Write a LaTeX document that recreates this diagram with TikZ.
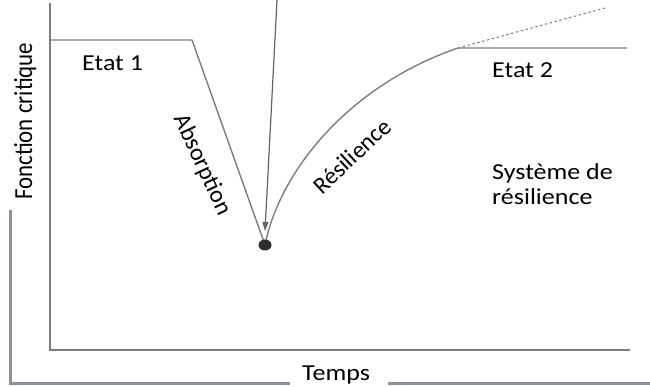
\documentclass[tikz,border=0pt]{standalone}
\usepackage{fontspec}
\setmainfont{Carlito}
\usepackage{graphicx}
\usetikzlibrary{arrows.meta}
\definecolor{linegray}{RGB}{125,125,125}
\definecolor{framegray}{RGB}{140,146,156}
\definecolor{dotgray}{RGB}{45,45,45}
\newcommand\sqz[1]{\scalebox{1}[0.88]{#1}}
\newcommand\sqzv[1]{\scalebox{0.88}[1]{#1}}
\tikzset{
  curveline/.style={draw=linegray, line width=1.4pt},
  axisline/.style={draw=linegray, line width=1.3pt},
  frameline/.style={draw=framegray, line width=3pt},
  lbl/.style={inner sep=0pt, font=\fontsize{26}{25}\selectfont, text=black},
  tlbl/.style={inner sep=0pt, font=\fontsize{24}{28}\selectfont, text=black},
}
\begin{document}
\begin{tikzpicture}[x=1pt,y=-1pt]
\useasboundingbox (0,0) rectangle (650,387);
% coordinates
\coordinate (ytop) at (50,3);
\coordinate (orig) at (50,350);
\coordinate (xend) at (630,350);
\coordinate (e1end) at (192,40);
\coordinate (e1start) at (50,40);
\coordinate (low) at (265,245);
\coordinate (e2start) at (458,48);
\coordinate (e2end) at (627,48);
\coordinate (dashend) at (605,8);
\coordinate (arrtop) at (277,0);
\coordinate (arrtip) at (265,231);
\coordinate (fa) at (10,210);
\coordinate (fb) at (10,383);
\coordinate (fc) at (290,383);
\coordinate (fd) at (388,383);
\coordinate (fe) at (650,383);
% outer frame
\draw[frameline] (fa) -- (fb) -- (fc);
\draw[frameline] (fd) -- (fe);
% axes
\draw[axisline] (ytop) -- (orig) -- (xend);
% curve
\draw[curveline, line join=round] (e1start) -- (e1end) -- (low);
\draw[curveline] (low) .. controls (280,170) and (350,85) .. (e2start) -- (e2end);
\draw[draw=linegray, line width=1pt, dash pattern=on 2.5pt off 2.5pt] (e2start) -- (dashend);
% arrow
\draw[draw=linegray!80!black, line width=1.2pt, -{Triangle[length=9pt,width=6pt]}] (arrtop) -- (arrtip);
% dot
\fill[dotgray] (low) ellipse [x radius=6.5, y radius=5.5] node (dot) {};
% labels
\node[lbl, anchor=base west] (etat1) at (82,71) {\sqz{Etat 1}};
\node[lbl, anchor=base west] (etat2) at (492,78) {\sqz{Etat 2}};
\node[lbl, anchor=base west] (temps) at (302,380) {\sqz{Temps}};
\node[lbl, anchor=base west, align=left] (sys) at (492,205) {\sqz{Système de}\\\sqz{résilience}};
\node[lbl, anchor=base west, rotate=90] (fc) at (32,200) {\sqzv{Fonction critique}};
\node[tlbl, rotate=-65] (abs) at (202,165) {Absorption};
\node[tlbl, rotate=43] (res) at (352,156) {Résilience};
\end{tikzpicture}
\end{document}
